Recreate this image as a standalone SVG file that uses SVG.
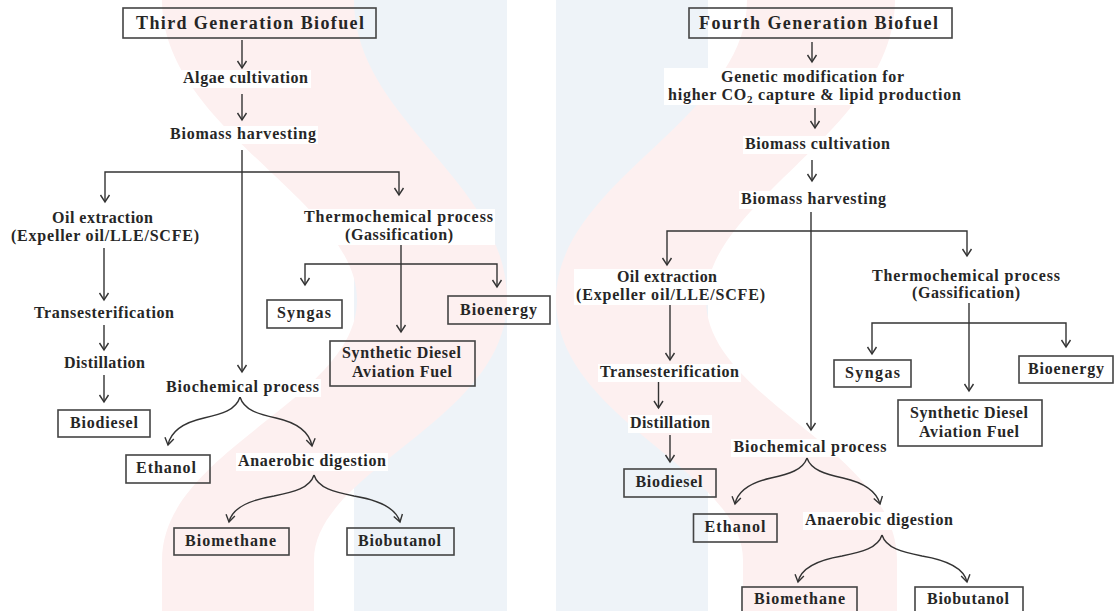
<svg xmlns="http://www.w3.org/2000/svg" width="1116" height="611" viewBox="0 0 1116 611">
<defs>
<marker id="ah" viewBox="-9 -6 11 12" refX="0" refY="0" markerWidth="11" markerHeight="12" markerUnits="userSpaceOnUse" orient="auto-start-reverse">
<path d="M-7,-4.5 L0,0 L-7,4.5" fill="none" stroke="#333" stroke-width="1.4" stroke-linejoin="miter"/>
</marker>
<style>
.wm-p{fill:#fdf0f0}
.wm-b{fill:#eef3f8}
.box{fill:none;stroke:#444;stroke-width:1.6}
.bg{fill:#ffffff}
.t{font-family:"Liberation Serif","Times New Roman",serif;font-weight:bold;font-size:16px;fill:#262626;text-anchor:middle}
.title{font-size:18px}
.c path{fill:none;stroke:#333;stroke-width:1.4;marker-end:url(#ah)}
.c path.both{marker-start:url(#ah)}
</style>
</defs>
<rect width="1116" height="611" fill="#ffffff"/>
<g id="watermark">
<rect class="wm-b" x="354" y="0" width="153" height="611"/>
<rect class="wm-b" x="556" y="0" width="152" height="611"/>
<path class="wm-p" d="M162,0 L354,0 C354,120 507,180 507,300 C507,420 314,470 314,560 L314,611 L162,611 L162,560 C162,450 357,400 357,300 C357,200 162,130 162,0 Z"/>
<path class="wm-p" d="M747,0 L895,0 C895,130 706,200 706,300 C706,400 897,450 897,560 L897,611 L743,611 L743,560 C743,470 556,420 556,300 C556,180 747,120 747,0 Z"/>
</g>
<g id="connectors" class="c">
<path d="M242,40 L242,68"/>
<path d="M242,94 L242,120"/>
<path d="M242,150 L242,372"/>
<path class="both" d="M105,202 L105,172 L399,172 L399,195"/>
<path d="M104,248 L104,300"/>
<path d="M401,243 L401,332"/>
<path class="both" d="M305,285 L305,264 L497,264 L497,287"/>
<path d="M104,325 L104,350"/>
<path d="M104,375 L104,402"/>
<path d="M240,397 C236,410 222,414 204,418 C186,422 171,430 168,445"/>
<path d="M240,397 C244,410 258,414 276,418 C294,422 309,430 312,446"/>
<path d="M314,475 C310,488 294,492 274,496 C250,500 232,508 229,522"/>
<path d="M314,475 C318,488 334,492 354,496 C378,500 396,508 400,522"/>
<path d="M812,42 L812,62"/>
<path d="M815,108 L815,128"/>
<path d="M812,160 L812,181"/>
<path d="M811,212 L811,430"/>
<path class="both" d="M667,265 L667,231 L967,231 L967,256"/>
<path d="M670,303 L670,360"/>
<path d="M969,302 L969,391"/>
<path class="both" d="M872,354 L872,323 L1066,323 L1066,347"/>
<path d="M658.5,382 L658.5,408"/>
<path d="M670,435 L670,462"/>
<path d="M807,458 C803,470 789,474 771,478 C753,482 738,490 735,504"/>
<path d="M807,458 C811,470 825,474 843,478 C861,482 876,490 880,504"/>
<path d="M882,535 C878,548 862,552 842,556 C818,560 801,568 798,582"/>
<path d="M882,535 C886,548 902,552 922,556 C946,560 964,568 967,582"/>
</g>
<g id="n_title3"><rect class="box" x="123" y="8" width="253" height="30"/><text class="t title" x="250" y="29" textLength="228">Third Generation Biofuel</text></g>
<g id="n_algae"><rect class="bg" x="181" y="70" width="130" height="18"/><text class="t" x="245.5" y="83" textLength="125">Algae cultivation</text></g>
<g id="n_harv3"><rect class="bg" x="168" y="126" width="150" height="18"/><text class="t" x="243" y="139" textLength="146">Biomass harvesting</text></g>
<g id="n_oil3"><rect class="bg" x="9" y="210" width="192" height="36"/><text class="t" x="102.5" y="223" textLength="101">Oil extraction</text><text class="t" x="105" y="241" textLength="188">(Expeller oil/LLE/SCFE)</text></g>
<g id="n_thermo3"><rect class="bg" x="302" y="209" width="193" height="36"/><text class="t" x="398.5" y="222" textLength="189">Thermochemical process</text><text class="t" x="399" y="240" textLength="108">(Gassification)</text></g>
<g id="n_trans3"><rect class="bg" x="32" y="305" width="144" height="18"/><text class="t" x="104" y="318" textLength="140">Transesterification</text></g>
<g id="n_dist3"><rect class="bg" x="62" y="355" width="85" height="18"/><text class="t" x="104.5" y="368" textLength="81">Distillation</text></g>
<g id="n_biodiesel3"><rect class="box" x="58" y="410" width="92" height="27"/><text class="t" x="104" y="428" textLength="68">Biodiesel</text></g>
<g id="n_syngas3"><rect class="box" x="267" y="300" width="75" height="28"/><text class="t" x="304" y="318" textLength="54">Syngas</text></g>
<g id="n_bioenergy3"><rect class="box" x="448" y="296" width="102" height="28"/><text class="t" x="498.5" y="315" textLength="77">Bioenergy</text></g>
<g id="n_synth3"><rect class="box" x="330" y="341" width="145" height="45"/><text class="t" x="401.5" y="358" textLength="119">Synthetic Diesel</text><text class="t" x="402" y="377" textLength="100">Aviation Fuel</text></g>
<g id="n_biochem3"><rect class="bg" x="164" y="379" width="157" height="18"/><text class="t" x="242.5" y="392" textLength="153">Biochemical process</text></g>
<g id="n_ethanol3"><rect class="box" x="126" y="455" width="84" height="28"/><text class="t" x="166" y="473" textLength="60">Ethanol</text></g>
<g id="n_anaer3"><rect class="bg" x="236" y="453" width="152" height="18"/><text class="t" x="312" y="466" textLength="148">Anaerobic digestion</text></g>
<g id="n_biometh3"><rect class="box" x="174" y="528" width="115" height="27"/><text class="t" x="230.5" y="546" textLength="91">Biomethane</text></g>
<g id="n_biobut3"><rect class="box" x="347" y="528" width="107" height="27"/><text class="t" x="399.5" y="546" textLength="83">Biobutanol</text></g>
<g id="n_title4"><rect class="box" x="689" y="8" width="263" height="30"/><text class="t title" x="818.5" y="29" textLength="239">Fourth Generation Biofuel</text></g>
<g id="n_genetic"><rect class="bg" x="664" y="68" width="301" height="37"/><text class="t" x="812.5" y="82" textLength="183">Genetic modification for</text><text class="t" x="814.5" y="100" textLength="293">higher CO<tspan font-size="11" dy="3">2</tspan><tspan dy="-3"> capture &amp; lipid production</tspan></text></g>
<g id="n_cult4"><rect class="bg" x="743" y="136" width="149" height="18"/><text class="t" x="817.5" y="149" textLength="145">Biomass cultivation</text></g>
<g id="n_harv4"><rect class="bg" x="739" y="191" width="149" height="18"/><text class="t" x="813.5" y="204" textLength="145">Biomass harvesting</text></g>
<g id="n_oil4"><rect class="bg" x="574" y="269" width="193" height="36"/><text class="t" x="667" y="282" textLength="100">Oil extraction</text><text class="t" x="670.5" y="300" textLength="189">(Expeller oil/LLE/SCFE)</text></g>
<g id="n_thermo4"><rect class="bg" x="870" y="268" width="192" height="35"/><text class="t" x="966" y="281" textLength="188">Thermochemical process</text><text class="t" x="966" y="298" textLength="108">(Gassification)</text></g>
<g id="n_trans4"><rect class="bg" x="598" y="364" width="143" height="18"/><text class="t" x="669.5" y="377" textLength="139">Transesterification</text></g>
<g id="n_dist4"><rect class="bg" x="628" y="415" width="84" height="18"/><text class="t" x="670" y="428" textLength="80">Distillation</text></g>
<g id="n_biodiesel4"><rect class="box" x="624" y="469" width="92" height="28"/><text class="t" x="669" y="487" textLength="67">Biodiesel</text></g>
<g id="n_syngas4"><rect class="box" x="834" y="360" width="77" height="27"/><text class="t" x="872.5" y="378" textLength="55">Syngas</text></g>
<g id="n_bioenergy4"><rect class="box" x="1019" y="356" width="94" height="27"/><text class="t" x="1066" y="374" textLength="76">Bioenergy</text></g>
<g id="n_synth4"><rect class="box" x="898" y="400" width="144" height="46"/><text class="t" x="969" y="418" textLength="118">Synthetic Diesel</text><text class="t" x="969" y="437" textLength="100">Aviation Fuel</text></g>
<g id="n_biochem4"><rect class="bg" x="731" y="439" width="158" height="18"/><text class="t" x="810" y="452" textLength="153">Biochemical process</text></g>
<g id="n_ethanol4"><rect class="box" x="693.5" y="514" width="83.5" height="28"/><text class="t" x="735" y="532" textLength="61">Ethanol</text></g>
<g id="n_anaer4"><rect class="bg" x="803" y="512" width="152" height="18"/><text class="t" x="879" y="525" textLength="148">Anaerobic digestion</text></g>
<g id="n_biometh4"><rect class="box" x="742" y="587" width="115" height="30"/><text class="t" x="799.5" y="604" textLength="91">Biomethane</text></g>
<g id="n_biobut4"><rect class="box" x="915" y="587" width="108" height="30"/><text class="t" x="968" y="604" textLength="82">Biobutanol</text></g>
</svg>
